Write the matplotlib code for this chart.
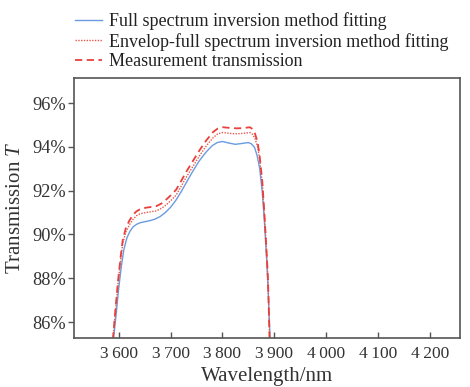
import matplotlib
matplotlib.use('Agg')
import matplotlib.pyplot as plt
from matplotlib.ticker import FixedLocator, FuncFormatter

plt.rcParams['font.family'] = ['Liberation Serif', 'DejaVu Serif']
plt.rcParams['mathtext.fontset'] = 'custom'
plt.rcParams['mathtext.it'] = 'Liberation Serif:italic'

# 讀圖估值
wl_meas = [3589, 3594, 3599, 3604, 3608, 3614, 3621, 3628, 3634, 3641, 3647, 3660,
           3673, 3683, 3692, 3701, 3711, 3720, 3730, 3743, 3756, 3769, 3782, 3791,
           3801, 3814, 3827, 3840, 3853, 3858, 3863, 3868, 3872, 3877, 3881, 3885,
           3888, 3891]
t_meas = [85.2, 86.6, 87.9, 89.0, 89.75, 90.3, 90.65, 90.9, 91.05, 91.15, 91.2, 91.25,
          91.3, 91.42, 91.6, 91.8, 92.05, 92.42, 92.85, 93.35, 93.85, 94.3, 94.68, 94.84,
          94.9, 94.87, 94.85, 94.86, 94.9, 94.82, 94.6, 94.2, 93.55, 92.4, 90.95, 89.3,
          87.9, 85.2]

wl_env = [3589, 3594, 3599, 3604, 3608, 3614, 3621, 3628, 3634, 3641, 3647, 3660,
          3673, 3683, 3692, 3701, 3711, 3720, 3730, 3743, 3756, 3769, 3782, 3791,
          3801, 3814, 3827, 3840, 3853, 3858, 3863, 3868, 3872, 3877, 3881, 3885,
          3888, 3891]
t_env = [85.2, 86.5, 87.8, 88.85, 89.6, 90.12, 90.45, 90.7, 90.85, 90.94, 90.98, 91.03,
         91.08, 91.2, 91.36, 91.56, 91.8, 92.18, 92.6, 93.1, 93.6, 94.05, 94.42, 94.6,
         94.66, 94.62, 94.6, 94.62, 94.66, 94.58, 94.38, 94.0, 93.4, 92.3, 90.9, 89.3,
         87.9, 85.2]

wl_full = [3590, 3595, 3600, 3605, 3610, 3616, 3622, 3628, 3635, 3642, 3650, 3660,
           3670, 3680, 3690, 3700, 3710, 3720, 3730, 3742, 3755, 3768, 3780, 3790,
           3800, 3812, 3825, 3838, 3850, 3856, 3862, 3867, 3872, 3877, 3881, 3885,
           3888, 3892]
t_full = [85.2, 86.3, 87.5, 88.5, 89.3, 89.85, 90.15, 90.35, 90.47, 90.54, 90.58, 90.63,
          90.7, 90.82, 91.0, 91.24, 91.55, 91.93, 92.35, 92.85, 93.35, 93.75, 94.05, 94.2,
          94.25, 94.18, 94.12, 94.16, 94.2, 94.14, 93.98, 93.6, 93.0, 91.9, 90.6, 89.0,
          87.6, 85.2]

xticks = [3600, 3700, 3800, 3900, 4000, 4100, 4200]
yticks = [86, 88, 90, 92, 94, 96]

fig = plt.figure(figsize=(4.70, 3.87), dpi=100)
ax = fig.add_axes([74/470, 1 - 338/387, 386/470, 260/387])

ax.plot(wl_full, t_full, color='#6a9be0', lw=1.0,
        label='Full spectrum inversion method fitting')
ax.plot(wl_env, t_env, color='#e8584a', lw=1.0, ls=(0, (1, 1)),
        label='Envelop-full spectrum inversion method fitting')
ax.plot(wl_meas, t_meas, color='#e8403a', lw=1.3, ls=(0, (4, 2.5)),
        label='Measurement transmission')

ax.set_xlim(3514, 4258)
ax.set_ylim(85.27, 97.15)
ax.xaxis.set_major_locator(FixedLocator(xticks))
ax.yaxis.set_major_locator(FixedLocator(yticks))
ax.xaxis.set_major_formatter(FuncFormatter(lambda v, p: f'{int(v)//1000}\u2009{int(v)%1000:03d}'))
ax.yaxis.set_major_formatter(FuncFormatter(lambda v, p: f'{int(v)}%'))
ax.tick_params(axis='x', direction='in', length=4, width=1, color='#555555',
               labelsize=12.5, pad=6, labelcolor='#333333')
ax.tick_params(axis='y', direction='out', length=4, width=1, color='#555555',
               labelsize=13.2, pad=2, labelcolor='#333333')
for s in ax.spines.values():
    s.set_color('#555555')
    s.set_linewidth(1.2)

ax.set_xlabel('Wavelength/nm', fontsize=15, labelpad=3, color='#333333')
ax.set_ylabel('Transmission $T$', fontsize=15, labelpad=5, color='#333333')

leg = ax.legend(loc='lower left', bbox_to_anchor=(-0.02, 0.995), frameon=False,
                fontsize=13.0, handlelength=1.5, handletextpad=0.35,
                labelspacing=0.15, borderaxespad=0.1)
for t in leg.get_texts():
    t.set_color('#222222')

fig.savefig('out.png', dpi=100)
